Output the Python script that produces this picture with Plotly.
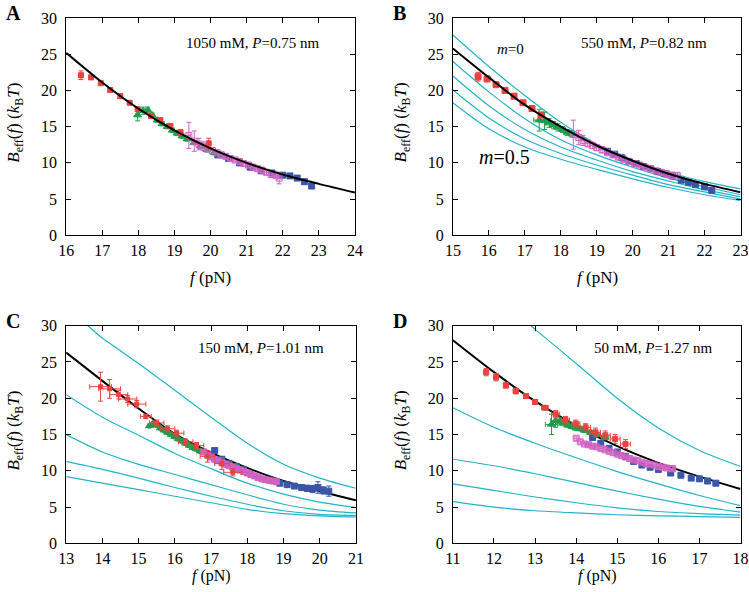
import plotly.graph_objects as go

W, H = 749, 592

# ---------------- colours ----------------
RED = "#e8433f"
GREEN = "#1f9c4b"
MAGENTA = "#d062c2"
BLUE = "#3b56a6"
CYAN = "#22b4c8"

# ---------------- Panel A (1050 mM) ----------------
A_fit_f = [16, 17, 18, 19, 20, 21, 22, 23, 24]
A_fit_B = [25.2, 21.1, 17.5, 14.5, 12.0, 10.0, 8.4, 7.1, 5.9]

A_red_f = [16.41, 16.69, 16.96, 17.22, 17.5, 17.76, 17.98, 18.35, 18.61, 18.89, 19.17, 19.95]
A_red_B = [22.1, 21.8, 21.0, 20.05, 19.2, 18.3, 17.4, 16.5, 15.9, 15.1, 14.2, 12.7]
A_red_Be = [0.6, 0.3, 0.3, 0.3, 0.3, 0.3, 0.3, 0.3, 0.3, 0.3, 0.4, 0.7]

A_green_f = [17.98, 18.13, 18.26, 18.38, 18.52, 18.66, 18.8, 18.94, 19.07, 19.21, 19.35, 19.54, 19.72, 19.9, 20.1, 20.3]
A_green_B = [16.6, 17.2, 17.3, 16.6, 15.9, 15.4, 15.0, 14.5, 14.1, 13.7, 13.3, 12.8, 12.3, 11.8, 11.4, 11.0]
A_green_Be = [0.8, 0.5, 0.4, 0.3, 0.3, 0.3, 0.3, 0.3, 0.3, 0.3, 0.3, 0.3, 0.3, 0.3, 0.3, 0.3]

A_mag_f = [19.4, 19.55, 19.68, 19.8, 19.92, 20.05, 20.18, 20.3, 20.42, 20.55, 20.68, 20.8, 20.92, 21.05, 21.18, 21.3, 21.42, 21.55, 21.68, 21.8, 21.9]
A_mag_B = [13.8, 13.0, 12.6, 12.3, 12.0, 11.7, 11.4, 11.1, 10.9, 10.6, 10.4, 10.2, 9.9, 9.7, 9.4, 9.2, 9.0, 8.7, 8.4, 8.3, 7.9]
A_mag_Be = [1.8, 1.4, 0.8, 0.6, 0.5, 0.4, 0.4, 0.4, 0.3, 0.3, 0.3, 0.3, 0.3, 0.3, 0.3, 0.3, 0.3, 0.3, 0.4, 0.4, 0.8]

A_blue_f = [20.2, 20.5, 20.8, 21.1, 21.4, 21.7, 22.0, 22.2, 22.4, 22.6, 22.8]
A_blue_B = [11.1, 10.6, 10.0, 9.4, 8.9, 8.6, 8.3, 8.2, 7.9, 7.4, 6.8]

# ---------------- Panel B (550 mM) ----------------
B_fit_f = [15, 16, 17, 18, 19, 20, 21, 22, 23]
B_fit_B = [25.8, 21.8, 18.0, 15.0, 12.4, 10.3, 8.5, 7.1, 5.95]
B_m_f = [15, 16, 17, 18, 19, 20, 21, 22, 23]
B_m_curves = [
    [27.65, 23.3, 19.3, 15.6, 12.6, 10.4, 8.7, 7.4, 6.4],
    [24.0, 19.8, 16.1, 13.2, 11.1, 9.4, 7.9, 6.7, 5.6],
    [22.0, 17.9, 14.6, 12.2, 10.4, 8.8, 7.5, 6.3, 5.3],
    [20.05, 16.2, 13.3, 11.3, 9.7, 8.3, 7.0, 6.0, 5.0],
    [18.3, 14.7, 12.2, 10.5, 9.1, 7.8, 6.6, 5.6, 4.8],
]

B_red_f = [15.7, 15.95, 16.2, 16.45, 16.7, 16.95, 17.2, 17.45]
B_red_B = [21.9, 21.6, 20.8, 20.0, 19.2, 18.3, 17.5, 16.6]
B_red_Be = [0.6, 0.4, 0.3, 0.3, 0.3, 0.3, 0.3, 0.4]

B_green_f = [17.4, 17.55, 17.68, 17.8, 17.92, 18.05, 18.18, 18.3]
B_green_B = [15.9, 15.8, 15.5, 15.2, 14.9, 14.6, 14.2, 14.0]
B_green_Be = [1.5, 1.2, 0.6, 0.5, 0.5, 0.4, 0.4, 0.4]
B_green_fe = [0.15, 0.15, 0.1, 0.1, 0.08, 0.08, 0.08, 0.08]

B_mag_f = [18.35, 18.5, 18.62, 18.75, 18.88, 19.0, 19.15, 19.3, 19.45, 19.6, 19.75, 19.9, 20.05, 20.2, 20.35, 20.5, 20.65, 20.8, 20.95, 21.1, 21.25]
B_mag_B = [13.9, 13.5, 13.1, 12.7, 12.4, 12.1, 11.8, 11.4, 11.1, 10.8, 10.5, 10.2, 9.9, 9.7, 9.4, 9.2, 8.9, 8.7, 8.5, 8.3, 8.2]
B_mag_Be = [2.0, 1.0, 0.7, 0.5, 0.4, 0.4, 0.4, 0.3, 0.3, 0.3, 0.3, 0.3, 0.3, 0.3, 0.3, 0.3, 0.3, 0.3, 0.3, 0.4, 0.5]

B_blue_f = [19.3, 19.5, 19.7, 19.9, 20.1, 20.3, 20.5, 20.7, 20.9, 21.1, 21.35, 21.55, 21.75, 22.0, 22.2]
B_blue_B = [11.6, 11.2, 10.7, 10.2, 9.9, 9.5, 9.2, 8.8, 8.5, 8.2, 7.6, 7.3, 7.0, 6.7, 6.2]

# ---------------- Panel C (150 mM) ----------------
C_fit_f = [13, 14, 15, 16, 17, 18, 19, 20, 21]
C_fit_B = [26.3, 22.4, 18.6, 15.1, 12.5, 10.4, 8.6, 7.2, 5.95]
C_top_f = [13.6, 14, 15, 16, 17, 18, 19, 20, 21]
C_top_B = [30.0, 28.3, 24.8, 21.1, 17.4, 13.8, 10.9, 9.0, 7.6]
C_m_f = [13, 14, 15, 16, 17, 18, 19, 20, 21]
C_m_curves = [
    [20.5, 17.4, 14.9, 12.4, 10.3, 8.3, 6.8, 5.7, 4.95],
    [15.0, 12.6, 10.9, 9.5, 8.1, 6.7, 5.4, 4.6, 4.2],
    [11.3, 10.2, 9.0, 7.7, 6.5, 5.4, 4.5, 4.0, 3.85],
    [9.2, 8.3, 7.4, 6.5, 5.6, 4.7, 4.1, 3.8, 3.65],
]

C_red_f = [13.95, 14.2, 14.45, 14.7, 14.95, 15.2, 15.5, 15.8, 16.05, 16.3, 16.6, 16.9, 17.3, 17.6]
C_red_B = [21.6, 21.3, 20.5, 19.9, 19.2, 17.5, 16.6, 15.8, 15.2, 14.0, 13.5, 12.0, 11.0, 9.8]
C_red_fe = [0.3, 0.3, 0.25, 0.25, 0.25, 0.15, 0.2, 0.2, 0.2, 0.2, 0.2, 0.2, 0.2, 0.25]
C_red_Be = [2.0, 1.3, 0.6, 0.5, 0.5, 0.3, 0.4, 0.4, 0.4, 0.4, 0.4, 0.8, 0.8, 0.5]

C_green_f = [15.3, 15.4, 15.5, 15.6, 15.7, 15.8, 15.9, 16.0, 16.1, 16.2, 16.3, 16.4, 16.5, 16.6, 16.7, 17.7, 17.8]
C_green_B = [16.2, 16.5, 16.3, 15.9, 15.6, 15.3, 15.0, 14.7, 14.4, 14.1, 13.8, 13.5, 13.2, 13.0, 12.7, 10.5, 10.1]

C_mag_f = [16.8, 16.9, 17.0, 17.1, 17.2, 17.3, 17.4, 17.5, 17.6, 17.7, 17.8, 17.9, 18.0, 18.1, 18.2, 18.3, 18.4, 18.5, 18.6, 18.7, 18.8]
C_mag_B = [12.6, 12.2, 11.9, 11.6, 11.4, 11.1, 10.9, 10.7, 10.5, 10.3, 10.1, 9.9, 9.7, 9.5, 9.3, 9.1, 8.9, 8.8, 8.7, 8.6, 8.5]

C_blue_f = [17.1, 17.3, 17.5, 17.7, 17.9, 18.9, 19.1, 19.3, 19.5, 19.65, 19.8, 19.95, 20.1, 20.25]
C_blue_B = [12.8, 11.6, 11.0, 10.6, 10.2, 8.3, 8.1, 7.9, 7.7, 7.6, 7.5, 7.7, 7.3, 7.2]
C_blue_Be = [0.3, 0.3, 0.3, 0.3, 0.3, 0.3, 0.3, 0.3, 0.3, 0.4, 0.5, 0.8, 0.5, 0.7]

# ---------------- Panel D (50 mM) ----------------
D_fit_f = [11, 12, 13, 14, 15, 16, 17, 18]
D_fit_B = [28.0, 23.6, 19.6, 16.2, 13.4, 11.1, 9.2, 7.5]
D_top_f = [12.9, 13, 14, 15, 16, 17, 18]
D_top_B = [30.0, 29.5, 24.8, 20.0, 15.9, 12.8, 10.6]
D_m_f = [11, 12, 13, 14, 15, 16, 17, 18]
D_m_curves = [
    [18.7, 16.0, 13.8, 11.8, 9.9, 8.2, 6.6, 5.2],
    [11.6, 10.7, 9.6, 8.4, 7.2, 6.1, 5.1, 4.3],
    [8.2, 7.3, 6.4, 5.6, 4.9, 4.4, 4.1, 3.9],
    [5.75, 5.0, 4.5, 4.2, 3.95, 3.8, 3.7, 3.6],
]

D_red_f = [11.81, 12.05, 12.29, 12.53, 12.78, 13.0, 13.24, 13.5, 13.74, 13.99, 14.23, 14.47, 14.71, 14.95, 15.2]
D_red_B = [23.6, 22.9, 21.8, 21.0, 20.3, 19.5, 18.7, 17.8, 17.0, 16.5, 16.0, 15.3, 14.9, 14.4, 13.7]
D_red_Be = [0.5, 0.5, 0.4, 0.4, 0.3, 0.3, 0.3, 0.5, 0.5, 0.5, 0.5, 0.6, 0.6, 0.6, 0.6]
D_red_fe = [0.06, 0.06, 0.06, 0.06, 0.06, 0.06, 0.08, 0.1, 0.1, 0.1, 0.12, 0.12, 0.12, 0.12, 0.12]

D_green_f = [13.4, 13.5, 13.6, 13.7, 13.8, 13.9, 14.0, 14.1, 14.2, 14.35, 14.5, 14.7]
D_green_B = [16.4, 16.9, 16.8, 16.6, 16.3, 16.1, 15.9, 15.8, 15.6, 15.3, 15.0, 14.6]
D_green_Be = [1.4, 0.9, 0.5, 0.4, 0.3, 0.3, 0.3, 0.3, 0.3, 0.3, 0.3, 0.3]
D_green_fe = [0.15, 0.12, 0.1, 0.08, 0.08, 0.08, 0.08, 0.08, 0.08, 0.08, 0.08, 0.08]

D_mag_f = [14.0, 14.1, 14.2, 14.3, 14.4, 14.5, 14.6, 14.7, 14.8, 14.9, 15.0, 15.1, 15.2, 15.3, 15.4, 15.5, 15.6, 15.7, 15.8, 15.9, 16.0, 16.1, 16.2, 16.3, 16.35]
D_mag_B = [14.5, 14.0, 13.7, 13.6, 13.4, 13.3, 13.1, 12.9, 12.7, 12.5, 12.3, 12.1, 11.9, 11.7, 11.5, 11.4, 11.2, 11.0, 10.9, 10.8, 10.6, 10.5, 10.4, 10.3, 10.3]

D_blue_f = [14.4, 14.6, 14.8, 15.0, 15.2, 15.4, 15.6, 15.8, 16.0, 16.3, 16.55, 16.8, 17.0, 17.2, 17.4]
D_blue_B = [14.6, 13.8, 13.1, 12.6, 12.0, 11.3, 10.8, 10.5, 10.2, 9.7, 9.4, 9.0, 8.9, 8.6, 8.3]

# ---------------- text ----------------
PANEL_LETTERS = ["A", "B", "C", "D"]
PANEL_TEXT = ["1050 mM, <i>P</i>=0.75 nm", "550 mM, <i>P</i>=0.82 nm",
              "150 mM, <i>P</i>=1.01 nm", "50 mM, <i>P</i>=1.27 nm"]
X_RANGES = [(16, 24), (15, 23), (13, 21), (11, 18)]
Y_TITLE = "<i>B</i><sub>eff</sub>(<i>f</i>) (<i>k</i><sub>B</sub><i>T</i>)"
X_TITLE = "<i>f</i> (pN)"

# plot rectangles in target-picture pixels (left, top, right, bottom)
RECTS = [(66, 18, 354, 235), (451.7, 18, 740.7, 235),
         (66, 325.3, 355, 542.7), (451.7, 325.3, 740.7, 542.7)]
XTITLE_Y = [277, 277, 575, 575]
XTITLE_SIZE = [17, 17, 16, 16]

SERIF = "Liberation Serif"

# the page is photographed with a small offset/scale; compensate it
OX, SX, OY, SY = 8.0, 0.976, 8.0, 0.97


def px(x):
    return min((x - OX) / SX, W - 0.5) / W


def py(y):
    return 1 - ((y - OY) / SY) / H


fig = go.Figure()


def axname(i, kind):
    return kind if i == 0 else f"{kind}{i + 1}"


def add_line(i, xs, ys, color, width):
    fig.add_trace(go.Scatter(x=xs, y=ys, mode="lines",
                             line=dict(color=color, width=width, shape="spline", smoothing=0.8),
                             xaxis=axname(i, "x"), yaxis=axname(i, "y"), showlegend=False, hoverinfo="skip"))


def add_pts(i, xs, ys, color, symbol, size, ye=None, xe=None):
    kw = {}
    if ye is not None:
        kw["error_y"] = dict(type="data", array=ye, color=color, thickness=1, width=2.5)
    else:
        kw["error_y"] = dict(type="constant", value=0.3, color=color, thickness=1, width=2)
    if xe is not None:
        kw["error_x"] = dict(type="data", array=xe, color=color, thickness=1, width=2.5)
    else:
        kw["error_x"] = dict(type="constant", value=0.05, color=color, thickness=1, width=2)
    fig.add_trace(go.Scatter(x=xs, y=ys, mode="markers",
                             marker=dict(color=color, symbol=symbol, size=size,
                                         line=dict(color=color, width=1)),
                             xaxis=axname(i, "x"), yaxis=axname(i, "y"), showlegend=False, **kw))


# Panel A
add_pts(0, A_blue_f, A_blue_B, BLUE, "square", 6)
add_pts(0, A_green_f, A_green_B, GREEN, "triangle-up", 7, ye=A_green_Be)
add_pts(0, A_mag_f, A_mag_B, MAGENTA, "square-open", 6, ye=A_mag_Be)
add_pts(0, A_red_f, A_red_B, RED, "square", 5, ye=A_red_Be)
add_line(0, A_fit_f, A_fit_B, "black", 2)

# Panel B
for c in B_m_curves:
    add_line(1, B_m_f, c, CYAN, 1.2)
add_pts(1, B_blue_f, B_blue_B, BLUE, "square", 6)
add_pts(1, B_green_f, B_green_B, GREEN, "triangle-up", 7, ye=B_green_Be, xe=B_green_fe)
add_pts(1, B_mag_f, B_mag_B, MAGENTA, "square-open", 6, ye=B_mag_Be)
add_pts(1, B_red_f, B_red_B, RED, "square", 6, ye=B_red_Be)
add_line(1, B_fit_f, B_fit_B, "black", 2)

# Panel C
add_line(2, C_top_f, C_top_B, CYAN, 1.2)
for c in C_m_curves:
    add_line(2, C_m_f, c, CYAN, 1.2)
add_line(2, C_fit_f, C_fit_B, "black", 2)
add_pts(2, C_blue_f, C_blue_B, BLUE, "square", 6, ye=C_blue_Be)
add_pts(2, C_green_f, C_green_B, GREEN, "triangle-up", 7)
add_pts(2, C_mag_f, C_mag_B, MAGENTA, "square", 6)
add_pts(2, C_red_f, C_red_B, RED, "square", 4, ye=C_red_Be, xe=C_red_fe)

# Panel D
add_line(3, D_top_f, D_top_B, CYAN, 1.2)
for c in D_m_curves:
    add_line(3, D_m_f, c, CYAN, 1.2)
add_line(3, D_fit_f, D_fit_B, "black", 2)
add_pts(3, D_blue_f, D_blue_B, BLUE, "square", 6)
add_pts(3, D_green_f, D_green_B, GREEN, "triangle-up", 7, ye=D_green_Be, xe=D_green_fe)
add_pts(3, D_mag_f, D_mag_B, MAGENTA, "square-open", 6)
add_pts(3, D_red_f, D_red_B, RED, "square", 5, ye=D_red_Be, xe=D_red_fe)

layout = dict(width=W, height=H, margin=dict(l=0, r=0, t=0, b=0),
              paper_bgcolor="white", plot_bgcolor="white", autosize=False,
              font=dict(family=SERIF, size=15, color="black"), showlegend=False)

annotations = []
for i, (l, t, r, b) in enumerate(RECTS):
    xa = dict(domain=[px(l), px(r)], range=list(X_RANGES[i]), dtick=1, ticks="inside", ticklen=5,
              tickcolor="black", mirror="ticks", showline=True, linecolor="black", linewidth=1,
              showgrid=False, zeroline=False, tickfont=dict(family=SERIF, size=16),
              anchor=axname(i, "y"))
    ya = dict(domain=[py(b), py(t)], range=[0, 30], dtick=5, ticks="inside", ticklen=5,
              tickcolor="black", mirror="ticks", showline=True, linecolor="black", linewidth=1,
              showgrid=False, zeroline=False, tickfont=dict(family=SERIF, size=16),
              ticklabelstandoff=5, anchor=axname(i, "x"))
    layout["xaxis" if i == 0 else f"xaxis{i + 1}"] = xa
    layout["yaxis" if i == 0 else f"yaxis{i + 1}"] = ya
    # x title
    annotations.append(dict(x=px((l + r) / 2), y=py(XTITLE_Y[i]), xref="paper", yref="paper",
                            text=X_TITLE, showarrow=False, font=dict(family=SERIF, size=XTITLE_SIZE[i]),
                            xanchor="center", yanchor="middle"))
    # y title
    annotations.append(dict(x=px(l - 51), y=py((t + b) / 2 - 4), xref="paper", yref="paper",
                            text=Y_TITLE, showarrow=False, textangle=-90, font=dict(family=SERIF, size=17),
                            xanchor="center", yanchor="middle"))
    # panel letter
    annotations.append(dict(x=px(l - 62), y=py(t - 5), xref="paper", yref="paper",
                            text="<b>" + PANEL_LETTERS[i] + "</b>", showarrow=False,
                            font=dict(family=SERIF, size=20),
                            xanchor="left", yanchor="middle"))
# condition text
COND_POS = [(252, 43), (642.5, 43), (260.5, 348), (651.5, 348)]
for i, (cx, cy) in enumerate(COND_POS):
    annotations.append(dict(x=px(cx), y=py(cy), xref="paper", yref="paper", text=PANEL_TEXT[i],
                            showarrow=False, font=dict(family=SERIF, size=15), xanchor="center", yanchor="middle"))
# m labels in panel B
annotations.append(dict(x=px(509), y=py(49), xref="paper", yref="paper", text="<i>m</i>=0",
                        showarrow=False, font=dict(family=SERIF, size=15), xanchor="center", yanchor="middle"))
annotations.append(dict(x=px(503), y=py(157), xref="paper", yref="paper", text="<i>m</i>=0.5",
                        showarrow=False, font=dict(family=SERIF, size=20), xanchor="center", yanchor="middle"))

layout["annotations"] = annotations
fig.update_layout(**layout)
fig.write_html("out.html", config={"displayModeBar": False},
               post_script="document.documentElement.style.margin='0';document.documentElement.style.padding='0';document.body.style.margin='0';document.body.style.padding='0';document.documentElement.style.overflow='hidden';document.body.style.overflow='hidden';")
